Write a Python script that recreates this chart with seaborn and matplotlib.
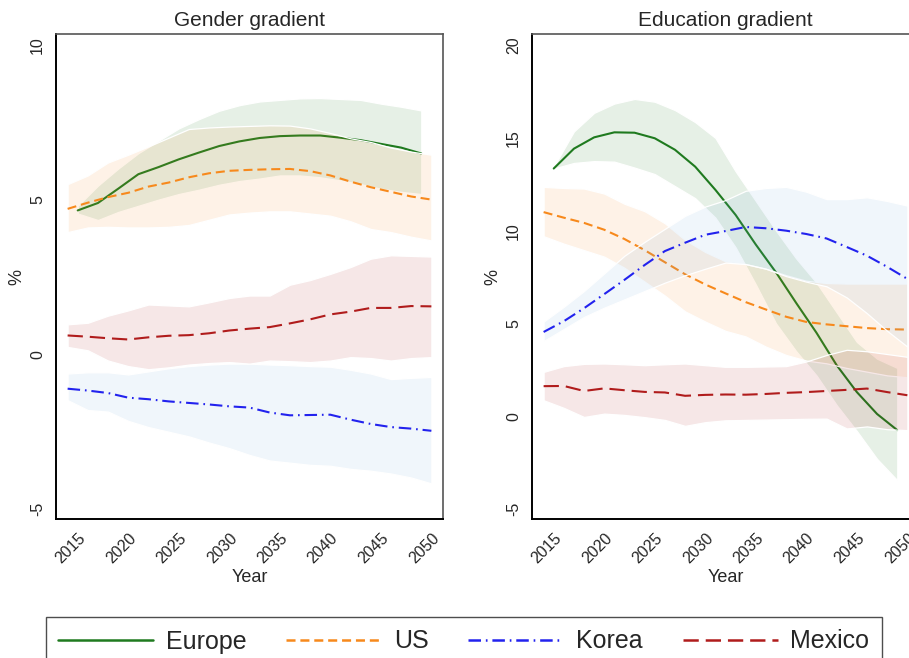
import matplotlib
matplotlib.use("Agg")
import matplotlib.pyplot as plt
import seaborn as sns
import numpy as np
import pandas as pd
from matplotlib.lines import Line2D

# ---------------- data ----------------
years = list(range(2014, 2051, 2))
years_eu = list(range(2015, 2050, 2))
series_names = ["Europe", "US", "Korea", "Mexico"]

# Gender gradient
gen_europe = [4.65, 4.89, 5.35, 5.82, 6.05, 6.3, 6.52, 6.73, 6.88, 6.99, 7.05, 7.07, 7.07, 7.0, 6.92, 6.8, 6.68, 6.49]
gen_europe_lo = [4.55, 4.34, 4.6, 4.8, 5.0, 5.18, 5.32, 5.48, 5.6, 5.68, 5.78, 5.78, 5.72, 5.62, 5.5, 5.35, 5.25, 5.18]
gen_europe_hi = [4.8, 5.45, 6.0, 6.5, 6.9, 7.3, 7.6, 7.87, 8.05, 8.17, 8.22, 8.27, 8.28, 8.25, 8.22, 8.1, 8.0, 7.88]

gen_us = [4.7, 4.9, 5.08, 5.22, 5.42, 5.55, 5.72, 5.85, 5.93, 5.96, 5.98, 5.99, 5.92, 5.78, 5.58, 5.4, 5.25, 5.1, 5.0]
gen_us_lo = [3.95, 4.1, 4.12, 4.1, 4.1, 4.12, 4.18, 4.35, 4.52, 4.58, 4.62, 4.62, 4.55, 4.48, 4.3, 4.05, 3.95, 3.8, 3.68]
gen_us_hi = [5.5, 5.78, 6.2, 6.45, 6.72, 7.0, 7.28, 7.33, 7.36, 7.38, 7.4, 7.39, 7.3, 7.15, 6.98, 6.86, 6.68, 6.55, 6.45]

gen_korea = [-1.11, -1.17, -1.25, -1.4, -1.45, -1.52, -1.57, -1.62, -1.68, -1.72, -1.88, -1.97, -1.96, -1.95, -2.11, -2.25, -2.35, -2.4, -2.47]
gen_korea_lo = [-1.48, -1.8, -1.85, -2.15, -2.35, -2.5, -2.65, -2.85, -3.03, -3.25, -3.43, -3.5, -3.57, -3.6, -3.7, -3.76, -3.85, -3.98, -4.17]
gen_korea_hi = [-0.62, -0.58, -0.58, -0.65, -0.55, -0.45, -0.38, -0.33, -0.3, -0.3, -0.33, -0.35, -0.38, -0.4, -0.5, -0.62, -0.8, -0.76, -0.73]

gen_mexico = [0.61, 0.57, 0.52, 0.48, 0.55, 0.6, 0.62, 0.68, 0.77, 0.83, 0.88, 1.0, 1.13, 1.29, 1.38, 1.5, 1.5, 1.56, 1.55]
gen_mexico_lo = [0.24, 0.13, -0.2, -0.38, -0.48, -0.42, -0.33, -0.28, -0.25, -0.3, -0.2, -0.22, -0.25, -0.2, -0.09, -0.12, -0.2, -0.12, -0.09]
gen_mexico_hi = [0.97, 1.02, 1.25, 1.42, 1.61, 1.58, 1.55, 1.68, 1.82, 1.9, 1.9, 2.25, 2.4, 2.6, 2.82, 3.09, 3.2, 3.18, 3.16]

# Education gradient
edu_europe = [13.35, 14.42, 15.03, 15.3, 15.28, 14.98, 14.36, 13.45, 12.2, 10.85, 9.25, 7.75, 6.1, 4.5, 2.75, 1.3, 0.12, -0.75]
edu_europe_lo = [13.35, 13.65, 13.75, 13.72, 13.4, 13.05, 12.4, 11.75, 10.7, 9.1, 7.1, 5.0, 3.5, 2.2, 0.6, -0.8, -2.3, -3.45]
edu_europe_hi = [13.45, 15.35, 16.35, 16.85, 17.1, 16.95, 16.5, 15.85, 15.0, 13.2, 11.6, 10.0, 8.5, 7.2, 5.6, 4.0, 3.1, 2.6]

edu_us = [11.0, 10.7, 10.42, 10.05, 9.55, 8.95, 8.3, 7.65, 7.1, 6.62, 6.15, 5.75, 5.36, 5.08, 4.95, 4.85, 4.75, 4.69, 4.67]
edu_us_lo = [9.7, 9.3, 8.95, 8.6, 8.0, 7.25, 6.5, 5.65, 5.1, 4.6, 4.3, 3.75, 3.3, 3.0, 2.85, 2.6, 2.4, 2.2, 2.1]
edu_us_hi = [12.36, 12.3, 12.27, 12.0, 11.45, 11.05, 10.4, 9.5, 8.85, 8.35, 8.2, 7.95, 7.6, 7.3, 7.18, 7.15, 7.15, 7.15, 7.15]

edu_korea = [4.54, 5.12, 5.82, 6.58, 7.35, 8.15, 8.9, 9.35, 9.78, 9.98, 10.2, 10.13, 10.0, 9.82, 9.58, 9.12, 8.65, 8.05, 7.4]
edu_korea_lo = [4.05, 4.7, 5.35, 5.85, 6.3, 6.75, 7.2, 7.6, 7.95, 8.28, 8.2, 7.95, 7.55, 7.25, 7.0, 6.4, 5.55, 4.6, 3.75]
edu_korea_hi = [5.1, 5.9, 6.75, 7.7, 8.65, 9.4, 10.1, 10.8, 11.3, 11.65, 12.15, 12.3, 12.36, 12.1, 11.7, 11.7, 11.8, 11.6, 11.35]

edu_mexico = [1.62, 1.63, 1.36, 1.5, 1.4, 1.31, 1.28, 1.1, 1.15, 1.17, 1.16, 1.2, 1.26, 1.3, 1.36, 1.42, 1.49, 1.3, 1.13]
edu_mexico_lo = [0.86, 0.45, -0.04, 0.14, 0.07, -0.05, -0.2, -0.52, -0.32, -0.22, -0.2, -0.18, -0.16, -0.14, -0.13, -0.66, -0.55, -0.7, -0.75]
edu_mexico_hi = [2.39, 2.7, 2.82, 2.84, 2.8, 2.75, 2.8, 2.84, 2.75, 2.66, 2.66, 2.68, 2.7, 2.95, 3.3, 3.58, 3.5, 3.35, 3.2]

panel_titles = ["Gender gradient", "Education gradient"]
x_ticks = [2015, 2020, 2025, 2030, 2035, 2040, 2045, 2050]
y_ticks_gender = [-5, 0, 5, 10]
y_ticks_edu = [-5, 0, 5, 10, 15, 20]

# ---------------- style ----------------
sns.set_theme(style="white")
plt.rcParams["font.family"] = ["Liberation Sans", "DejaVu Sans"]
plt.rcParams["lines.scale_dashes"] = False

line_colors = {"Europe": "#1f7a1f", "US": "#f7891c", "Korea": "#2222ee", "Mexico": "#b01c1c"}
band_colors = {"Europe": ("#1f7a1f", 0.11), "US": ("#f7891c", 0.10),
               "Korea": ("#6fa8dc", 0.10), "Mexico": ("#b01c1c", 0.10)}
dash_styles = {"Europe": None, "US": (0, (6.5, 3.5)), "Korea": (0, (9, 3.5, 1.2, 3.5)),
               "Mexico": (0, (11, 5))}

W, H = 909, 658
fig = plt.figure(figsize=(W / 100, H / 100), dpi=100)
ax_l = fig.add_axes([56 / W, (H - 519) / H, 387 / W, 485 / H])
ax_r = fig.add_axes([532 / W, (H - 519) / H, 387 / W, 485 / H])

panels = [
    (ax_l, {
        "Europe": (years_eu, gen_europe, gen_europe_lo, gen_europe_hi),
        "US": (years, gen_us, gen_us_lo, gen_us_hi),
        "Korea": (years, gen_korea, gen_korea_lo, gen_korea_hi),
        "Mexico": (years, gen_mexico, gen_mexico_lo, gen_mexico_hi),
    }, (-5.32, 10.35), y_ticks_gender, panel_titles[0]),
    (ax_r, {
        "Europe": (years_eu, edu_europe, edu_europe_lo, edu_europe_hi),
        "US": (years, edu_us, edu_us_lo, edu_us_hi),
        "Korea": (years, edu_korea, edu_korea_lo, edu_korea_hi),
        "Mexico": (years, edu_mexico, edu_mexico_lo, edu_mexico_hi),
    }, (-5.54, 20.6), y_ticks_edu, panel_titles[1]),
]

for ax, data, ylim, yticks, title in panels:
    for i, name in enumerate(series_names):
        yrs, mean, lo, hi = data[name]
        bc, ba = band_colors[name]
        rgba = matplotlib.colors.to_rgba(bc, ba)
        ax.fill_between(yrs, lo, hi, facecolor=rgba, edgecolor="white",
                        linewidth=0.9, zorder=2 * i + 1)
        df = pd.DataFrame({"Year": yrs, "value": mean})
        sns.lineplot(data=df, x="Year", y="value", ax=ax, color=line_colors[name],
                     linewidth=1.5, zorder=2 * i + 2)
        ln = ax.lines[-1]
        if dash_styles[name] is not None:
            ln.set_linestyle(dash_styles[name])
    ax.set_xlim(2012.85, 2051.15)
    ax.set_ylim(*ylim)
    ax.set_xticks(x_ticks)
    ax.set_yticks(yticks)
    ax.set_xticklabels([str(t) for t in x_ticks], rotation=45, ha="right",
                       rotation_mode="anchor", fontsize=11.5)
    ax.set_yticklabels([str(t) for t in yticks], rotation=90, va="center", fontsize=11.5)
    ax.tick_params(axis="both", which="major", direction="out", length=5, width=1.2,
                   color="black", pad=3)
    ax.set_xlabel("Year", fontsize=13, labelpad=2)
    ax.set_ylabel("%", fontsize=13, labelpad=3)
    ax.set_title(title, fontsize=15, pad=6)
    for s in ["left", "bottom"]:
        ax.spines[s].set_color("black")
        ax.spines[s].set_linewidth(1.4)
    for s in ["top", "right"]:
        ax.spines[s].set_color("#555555")
        ax.spines[s].set_linewidth(1.2)
    ax.grid(False)
    ax.set_facecolor("white")

handles = []
for name in series_names:
    ls = dash_styles[name] if dash_styles[name] is not None else "-"
    handles.append(Line2D([0], [0], color=line_colors[name], linewidth=1.8, linestyle=ls))

leg = fig.legend(handles, series_names, loc="upper center",
                 bbox_to_anchor=(463.5 / W, (H - 617) / H), ncol=4,
                 prop={"family": ["Liberation Sans", "DejaVu Sans"], "size": 18},
                 handlelength=3.8, handletextpad=0.5, columnspacing=1.6,
                 borderpad=0.5, borderaxespad=0.0, frameon=True, fancybox=False)
leg.get_frame().set_edgecolor("#222222")
leg.get_frame().set_linewidth(1.0)

fig.savefig("out.png", dpi=100)
